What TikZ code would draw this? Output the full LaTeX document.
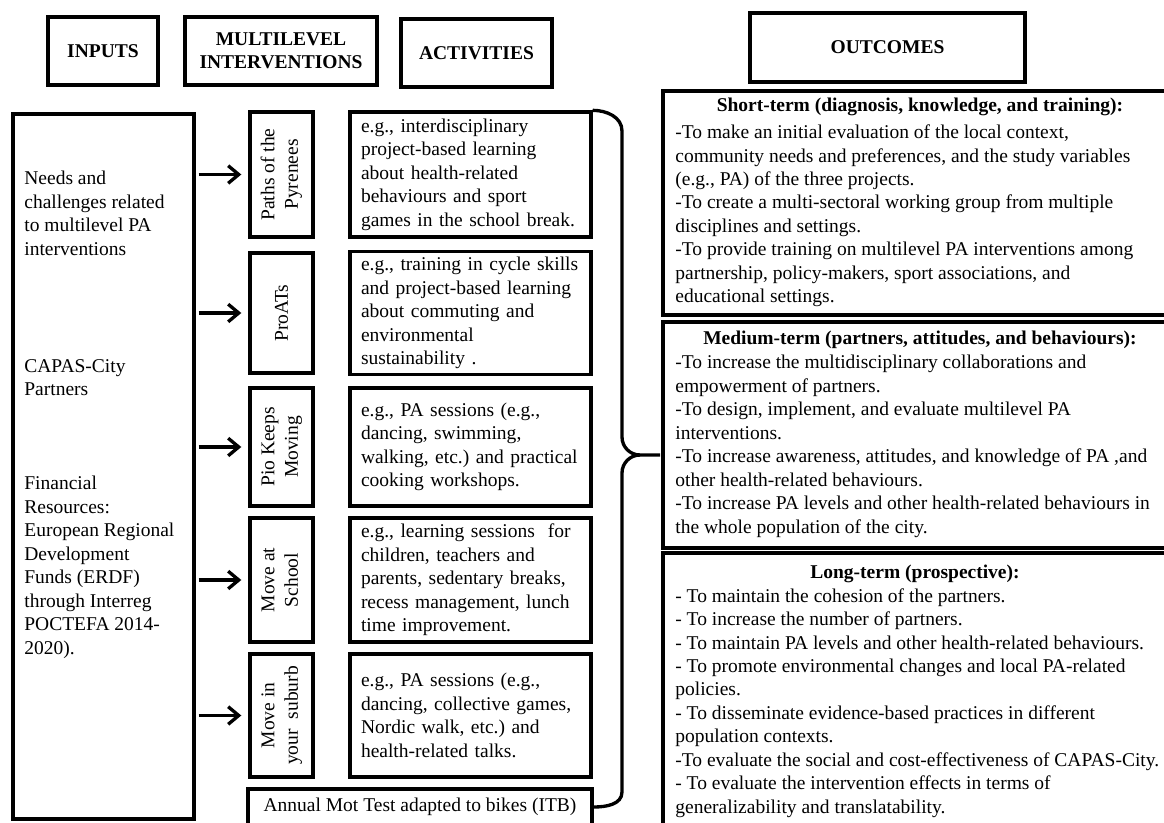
\documentclass[tikz,border=0pt]{standalone}
\usepackage{fontspec}
\setmainfont{Liberation Serif}
\usepackage{graphicx}
\usetikzlibrary{arrows.meta,positioning,calc}
\newcommand{\figfont}{\fontsize{11.1}{13.35}\selectfont}
\frenchspacing

\begin{document}
\begin{tikzpicture}[font=\figfont,
    hdr/.style={rectangle,draw,line width=1.9pt,align=center,font=\figfont\bfseries,minimum height=1.36cm},
    ibox/.style={rectangle,draw,line width=1.9pt,minimum width=1.26cm,inner sep=0pt},
    abox/.style={rectangle,draw,line width=1.9pt,text width=4.38cm,inner xsep=0.22cm,align=left},
    obox/.style={rectangle,draw,line width=1.9pt,minimum width=10.08cm},
    txt/.style={align=left,inner sep=0pt,anchor=north west},
    arr/.style={-{Straight Barb[length=6pt,width=10pt]},line width=1.9pt,shorten <=0.06cm,shorten >=0.14cm},
    brace/.style={line width=1.9pt}]

    \useasboundingbox (0,0) rectangle (23.28,-16.44);
    \clip (0,0) rectangle (23.28,-16.44);

    % Column headers
    \node[hdr,minimum width=2.20cm] (inputshdr) at (2.06,-1.02) {INPUTS};
    \node[hdr,minimum width=3.84cm] (multihdr) at (5.62,-1.02) {MULTILEVEL\\INTERVENTIONS};
    \node[hdr,minimum width=3.02cm] (acthdr) at (9.53,-1.06) {ACTIVITIES};
    \node[hdr,minimum width=5.50cm,minimum height=1.38cm] (outhdr) at (17.75,-0.95) {OUTCOMES};

    % Inputs
    \node[rectangle,draw,line width=1.9pt,minimum width=3.62cm,minimum height=14.10cm] (inputs) at (2.07,-9.33) {};
    \node[txt] (needs) at (0.48,-3.42) {Needs and\\challenges related\\to multilevel PA\\interventions};
    \node[txt] (partners) at (0.48,-7.18) {CAPAS-City\\Partners};
    \node[txt] (funds) at (0.48,-9.52) {Financial\\Resources:\\European Regional\\Development\\Funds (ERDF)\\through Interreg\\POCTEFA 2014-\\2020).};

    % Multilevel interventions
    \node[ibox,minimum height=2.50cm] (paths) at (5.63,-3.49) {\rotatebox{90}{\begin{tabular}{@{}c@{}}Paths of the\\Pyrenees\end{tabular}}};
    \node[ibox,minimum height=2.40cm] (proats) at (5.63,-6.26) {\rotatebox{90}{ProATs}};
    \node[ibox,minimum height=2.36cm] (pio) at (5.63,-8.94) {\rotatebox{90}{\begin{tabular}{@{}c@{}}Pio Keeps\\Moving\end{tabular}}};
    \node[ibox,minimum height=2.48cm] (school) at (5.63,-11.60) {\rotatebox{90}{\begin{tabular}{@{}c@{}}Move at\\School\end{tabular}}};
    \node[ibox,minimum height=2.46cm] (suburb) at (5.63,-14.31) {\rotatebox{90}{\begin{tabular}{@{}c@{}}Move in\\your\ \ suburb\end{tabular}}};

    % Activities
    \node[abox,minimum height=2.50cm] (act1) at (9.41,-3.49) {e.g., interdisciplinary\\project-based learning\\about health-related\\behaviours and sport\\games in the school break.};
    \node[abox,minimum height=2.40cm] (act2) at (9.41,-6.26) {e.g., training in cycle skills\\and project-based learning\\about commuting and\\environmental\\sustainability .};
    \node[abox,minimum height=2.36cm] (act3) at (9.41,-8.94) {e.g., PA sessions (e.g.,\\dancing, swimming,\\walking, etc.) and practical\\cooking workshops.};
    \node[abox,minimum height=2.48cm] (act4) at (9.41,-11.60) {e.g., learning sessions\ \ for\\children, teachers and\\parents, sedentary breaks,\\recess management, lunch\\time improvement.};
    \node[abox,minimum height=2.46cm] (act5) at (9.41,-14.31) {e.g., PA sessions (e.g.,\\dancing, collective games,\\Nordic walk, etc.) and\\health-related talks.};
    \node[rectangle,draw,line width=1.9pt,minimum width=6.88cm,minimum height=0.72cm] (itb) at (8.40,-16.14) {Annual Mot Test adapted to bikes (ITB)};

    % Arrows
    \draw[arr] (inputs.east |- paths.west) -- (paths.west);
    \draw[arr] (inputs.east |- proats.west) -- (proats.west);
    \draw[arr] (inputs.east |- pio.west) -- (pio.west);
    \draw[arr] (inputs.east |- school.west) -- (school.west);
    \draw[arr] (inputs.east |- suburb.west) -- (suburb.west);

    % Brace
    \coordinate (tip) at (13.20,-9.10);
    \draw[brace] (act1.north east) to[out=0,in=90] (12.44,-2.62) -- (12.44,-8.74) to[out=-90,in=180] (12.80,-9.10) -- (tip);
    \draw[brace] (12.80,-9.10) to[out=180,in=90] (12.44,-9.46) -- (12.44,-15.84) to[out=-90,in=0] (itb.east);

    % Outcomes
    \node[obox,minimum height=4.48cm] (short) at (18.30,-4.06) {};
    \node[obox,minimum height=4.52cm] (medium) at (18.30,-8.70) {};
    \node[obox,minimum height=5.64cm] (long) at (18.30,-13.88) {};

    \node[anchor=base,inner sep=0pt,font=\figfont\bfseries] (shorthd) at (18.40,-2.23) {Short-term (diagnosis, knowledge, and training):};
    \node[txt] (shorttxt) at (13.50,-2.49) {-To make an initial evaluation of the local context,\\community needs and preferences, and the study variables\\(e.g., PA) of the three projects.\\-To create a multi-sectoral working group from multiple\\disciplines and settings.\\-To provide training on multilevel PA interventions among\\partnership, policy-makers, sport associations, and\\educational settings.};

    \node[anchor=base,inner sep=0pt,font=\figfont\bfseries] (mediumhd) at (18.40,-6.89) {Medium-term (partners, attitudes, and behaviours):};
    \node[txt] (mediumtxt) at (13.50,-7.10) {-To increase the multidisciplinary collaborations and\\empowerment of partners.\\-To design, implement, and evaluate multilevel PA\\interventions.\\-To increase awareness, attitudes, and knowledge of PA ,and\\other health-related behaviours.\\-To increase PA levels and other health-related behaviours in\\the whole population of the city.};

    \node[anchor=base,inner sep=0pt,font=\figfont\bfseries] (longhd) at (18.30,-11.57) {Long-term (prospective):};
    \node[txt] (longtxt) at (13.50,-11.76) {- To maintain the cohesion of the partners.\\- To increase the number of partners.\\- To maintain PA levels and other health-related behaviours.\\- To promote environmental changes and local PA-related\\policies.\\- To disseminate evidence-based practices in different\\population contexts.\\-To evaluate the social and cost-effectiveness of CAPAS-City.\\- To evaluate the intervention effects in terms of\\generalizability and translatability.};
\end{tikzpicture}
\end{document}
